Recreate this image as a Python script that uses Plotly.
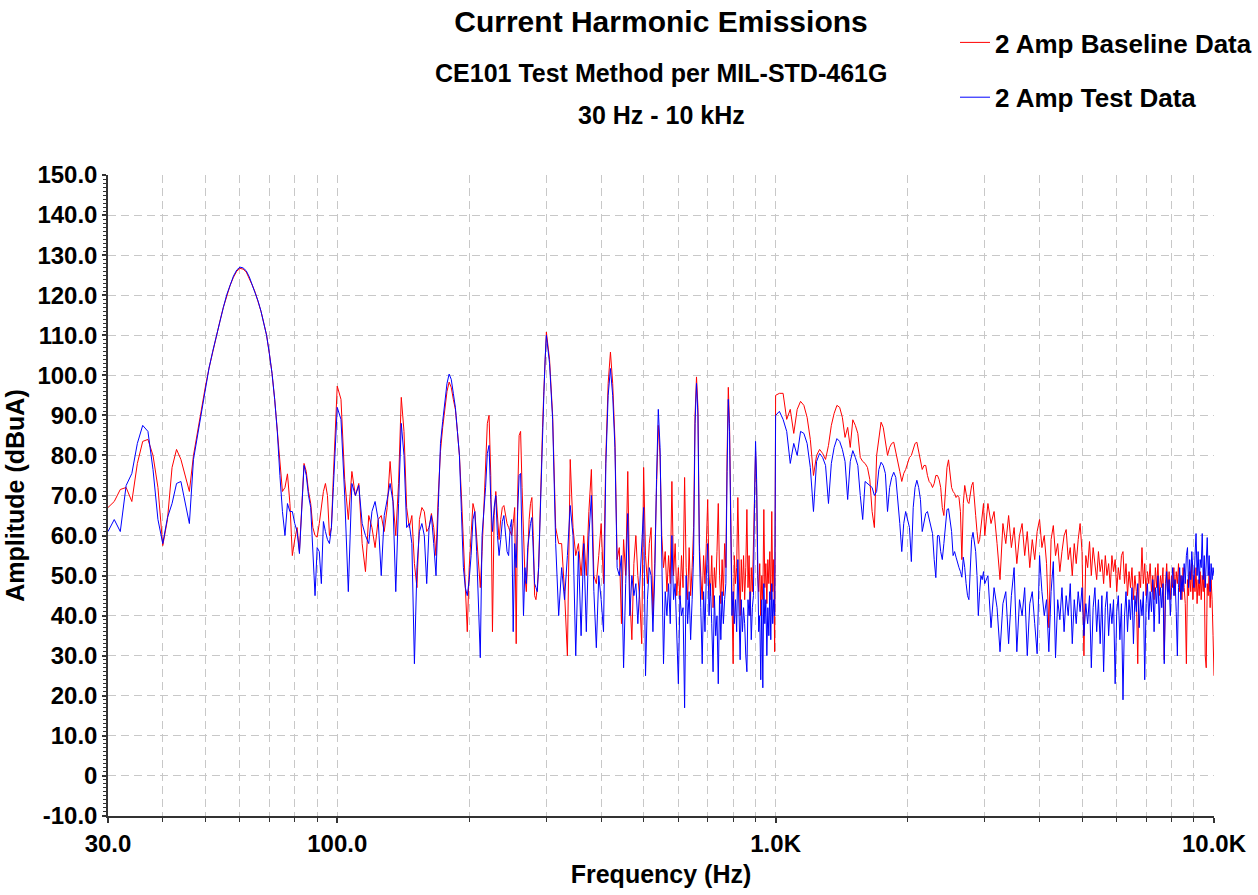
import math
import plotly.graph_objects as go

# ---------------- data ----------------
# Band A: 30 - 99 Hz
FREQ_A = [30, 31, 32, 33, 34, 35, 36, 37, 38, 39,
          40, 41, 42, 43, 44, 45, 46, 47, 48, 49,
          50, 51, 52, 53, 54, 55, 56, 57, 58, 59,
          60, 61, 62, 63, 64, 65, 66, 67, 68, 69,
          70, 71, 72, 73, 74, 75, 76, 77, 78, 79,
          80, 81, 82, 83, 84, 85, 86, 87, 88, 89,
          90, 91, 92, 93, 94, 95, 96, 97, 98, 99]
RED_A = [67, 68.5, 71.5, 72, 68.5, 78, 83.5, 84, 80, 72,
         57.5, 64, 77, 81.5, 79, 75, 71, 80, 86, 91.5,
         97, 101.8, 106, 110, 113.5, 117, 120, 122.5, 124.5, 126,
         126.7, 126.5, 125.8, 124.3, 122.5, 120.7, 118.5, 116, 113, 110,
         105.5, 100.5, 94, 86, 77, 71, 72, 75.4, 68, 55,
         59, 62, 56, 68, 78, 76, 71, 68, 62, 60,
         59.6, 63, 67, 71, 73, 70, 60, 62, 75, 88]
BLUE_A = [61, 64, 61, 72.5, 75.5, 83, 87.5, 86, 76.5, 64,
          58, 64.5, 68, 73, 73.5, 68.5, 63, 79, 85, 91.5,
          97, 101.8, 106, 110, 113.5, 117, 120.2, 122.8, 124.8, 126.3,
          127, 126.8, 126.1, 124.6, 122.7, 120.8, 118.5, 116, 113, 110,
          105.5, 100.5, 94, 86, 75, 66, 60, 68, 66, 66,
          63, 61, 55.5, 68, 77.5, 75, 70, 67, 55, 45,
          57, 56, 48, 63.5, 61, 59, 58, 62, 72, 84]

# Band B: 100 - 298 Hz
FREQ_B = [100, 102, 104, 106, 108, 110, 112, 114, 116, 118,
          120, 122, 124, 126, 128, 130, 132, 134, 136, 138,
          140, 142, 144, 146, 148, 150, 152, 154, 156, 158,
          160, 162, 164, 166, 168, 170, 172, 174, 176, 178,
          180, 182, 184, 186, 188, 190, 192, 194, 196, 198,
          200, 202, 204, 206, 208, 210, 212, 214, 216, 218,
          220, 222, 224, 226, 228, 230, 232, 234, 236, 238,
          240, 242, 244, 246, 248, 250, 252, 254, 256, 258,
          260, 262, 264, 266, 268, 270, 272, 274, 276, 278,
          280, 282, 284, 286, 288, 290, 292, 294, 296, 298]
RED_B = [97.3, 94, 74, 64, 76, 70, 73, 58, 51, 65,
         62, 57, 64, 65, 61, 67, 78.5, 69, 60, 73,
         94.5, 86, 67, 62, 65, 53, 47, 64, 67, 66,
         61, 62, 65.5, 62, 55, 70, 81, 87, 92, 96,
         98.3, 97, 94, 91.5, 86, 80, 70, 58, 45, 36,
         52, 62, 68, 66, 60, 52, 47, 56, 66, 77,
         88, 90, 75, 36, 65, 71, 64, 59, 64, 67,
         67.5, 65, 63, 62, 61, 60, 63, 67, 33, 70,
         85, 86, 72, 60, 50, 46, 58, 64, 68, 69.5,
         60, 45, 44, 47, 52, 65, 76, 87, 96, 105]
BLUE_B = [92, 89, 70, 46, 73, 70, 72.5, 63, 60, 58,
          66, 68.5, 64, 50, 65, 69, 73, 68.5, 46, 68,
          88, 80, 62, 63, 58, 28, 52, 61, 63, 60,
          48, 62, 65, 58, 50, 67, 83, 88.5, 93.5, 98,
          100.3, 99, 95.5, 92, 86, 80, 66, 52, 47, 45,
          49, 55, 64, 66, 56, 40, 29.5, 60, 66, 72,
          80.5, 82.5, 69, 61, 67, 70, 60, 55, 59, 63.5,
          65, 60, 56, 55, 62, 64, 36, 58, 52, 66,
          75, 75.5, 55, 40, 52, 48, 57, 61, 63, 64.5,
          56, 48, 47, 46, 52, 64.5, 76, 86, 95, 104]

# Band C: 300 - 995 Hz
FREQ_C = [300, 305, 310, 315, 320, 325, 330, 335, 340, 345,
          350, 355, 360, 365, 370, 375, 380, 385, 390, 395,
          400, 405, 410, 415, 420, 425, 430, 435, 440, 445,
          450, 455, 460, 465, 470, 475, 480, 485, 490, 495,
          500, 505, 510, 515, 520, 525, 530, 535, 540, 545,
          550, 555, 560, 565, 570, 575, 580, 585, 590, 595,
          600, 605, 610, 615, 620, 625, 630, 635, 640, 645,
          650, 655, 660, 665, 670, 675, 680, 685, 690, 695,
          700, 705, 710, 715, 720, 725, 730, 735, 740, 745,
          750, 755, 760, 765, 770, 775, 780, 785, 790, 795,
          800, 805, 810, 815, 820, 825, 830, 835, 840, 845,
          850, 855, 860, 865, 870, 875, 880, 885, 890, 895,
          900, 905, 910, 915, 920, 925, 930, 935, 940, 945,
          950, 955, 960, 965, 970, 975, 980, 985, 990, 995]
RED_C = [110.8, 104, 90, 62, 58, 58, 46, 30, 79, 62,
         55, 58, 50, 60, 50, 66, 76.5, 50, 48, 55,
         63, 48, 80, 98, 105.8, 98, 84, 54, 57, 38,
         59, 50, 76, 45, 34, 53, 60, 50, 44, 33,
         77, 55, 48, 58, 62, 40, 53, 72, 87.5, 80,
         60, 52, 56, 46, 55, 48, 73.5, 50, 58, 45,
         52, 44, 55, 47, 74.5, 52, 44, 57, 45, 52,
         62, 90, 99.6, 92, 58, 50, 44, 55, 48, 58,
         69, 50, 45, 55, 42, 52, 47, 56, 68, 50,
         43, 54, 45, 58, 52, 80, 97, 88, 60, 45,
         28, 55, 48, 52, 69.5, 48, 40, 54, 46, 55,
         44, 52, 66.5, 47, 55, 40, 52, 46, 57, 70,
         81, 72, 50, 46, 53, 40, 50, 44, 66.5, 47,
         53, 43, 54, 48, 56, 44, 66, 46, 54, 31]
BLUE_C = [110, 103, 89, 58, 40, 52, 44, 55, 67.5, 60,
          30, 56, 35, 58, 36, 60, 70, 46, 32, 50,
          44, 36, 78, 95, 101.7, 95, 82, 52, 50, 55,
          27, 48, 65.5, 40, 50, 45, 48, 38, 48, 55,
          67, 25, 44, 52, 50, 36, 50, 74, 91.5, 82,
          56, 28, 46, 40, 48, 38, 60, 44, 48, 35,
          23, 45, 40, 42, 17, 50, 38, 46, 34, 44,
          55, 88, 98, 90, 56, 42, 28, 46, 36, 50,
          58, 40, 48, 38, 26, 45, 35, 40, 23, 45,
          34, 46, 38, 44, 48, 76, 94, 86, 58, 40,
          46, 38, 44, 36, 54, 40, 29, 44, 36, 42,
          38, 30, 26, 44, 40, 46, 34, 42, 45, 68,
          83.5, 74, 48, 36, 40, 24, 44, 22, 48, 38,
          44, 30, 42, 35, 46, 34, 48, 38, 44, 40]

# Band D1: 1000 - 2980 Hz
FREQ_D1 = [1000, 1020, 1040, 1060, 1080, 1100, 1120, 1140, 1160, 1180,
           1200, 1220, 1240, 1260, 1280, 1300, 1320, 1340, 1360, 1380,
           1400, 1420, 1440, 1460, 1480, 1500, 1520, 1540, 1560, 1580,
           1600, 1620, 1640, 1660, 1680, 1700, 1720, 1740, 1760, 1780,
           1800, 1820, 1840, 1860, 1880, 1900, 1920, 1940, 1960, 1980,
           2000, 2020, 2040, 2060, 2080, 2100, 2120, 2140, 2160, 2180,
           2200, 2220, 2240, 2260, 2280, 2300, 2320, 2340, 2360, 2380,
           2400, 2420, 2440, 2460, 2480, 2500, 2520, 2540, 2560, 2580,
           2600, 2620, 2640, 2660, 2680, 2700, 2720, 2740, 2760, 2780,
           2800, 2820, 2840, 2860, 2880, 2900, 2920, 2940, 2960, 2980]
RED_D1 = [95, 95.5, 95.5, 89, 91.5, 85.5, 91.5, 93.5, 92.5, 89.5,
          84, 75, 80, 81.5, 80.5, 79, 82.5, 87.5, 90.5, 92.5,
          92, 89.5, 84.5, 87, 82, 88.9, 87.5, 85.5, 79.5, 78.5,
          78, 77, 74, 66, 62, 80, 85, 88.3, 87, 84,
          80, 82, 83, 83.3, 80.5, 78, 76, 73.5, 75.5, 76.5,
          78, 79.5, 80, 81.5, 83, 83.3, 81, 78, 76.5, 77.5,
          77.5, 75, 73.5, 73, 72, 73, 75, 75, 74, 72,
          67, 65, 72, 77, 78.9, 76, 72, 71, 70.5, 69.5,
          70, 69.5, 66, 54, 68, 72.5, 70.5, 68.5, 68, 70,
          72.5, 73.3, 70, 65, 61, 58, 59, 62, 66, 68]
BLUE_D1 = [90, 91, 89, 86, 78, 83, 80, 86, 85.5, 83,
           77, 66, 78.5, 80.5, 79.5, 77.5, 68, 78, 82, 84.2,
           83.5, 81.5, 78.5, 69, 78.5, 81.2, 79.5, 77.5, 70, 64,
           73.5, 73, 72.5, 72, 70, 71, 76.5, 78.3, 77.5, 75.5,
           66, 72, 74.5, 75.8, 74.5, 69, 63, 56, 63, 66,
           64, 62, 53.5, 67, 72, 73.8, 72, 69, 61, 63,
           65.5, 66, 64, 62, 60.5, 54, 49.5, 60, 60, 56,
           54, 58, 63, 66.5, 66.7, 64, 61, 55, 56, 54.6,
           53, 52, 51, 49.6, 54.6, 52, 48, 45, 44, 53,
           59, 60.8, 58, 56, 50, 40, 46, 50, 49, 51]

# Band D2: 3000 - 10000 Hz
FREQ_D2 = [3000, 3050, 3100, 3150, 3200, 3250, 3300, 3350, 3400, 3450,
           3500, 3550, 3600, 3650, 3700, 3750, 3800, 3850, 3900, 3950,
           4000, 4050, 4100, 4150, 4200, 4250, 4300, 4350, 4400, 4450,
           4500, 4550, 4600, 4650, 4700, 4750, 4800, 4850, 4900, 4950,
           5000, 5050, 5100, 5150, 5200, 5250, 5300, 5350, 5400, 5450,
           5500, 5550, 5600, 5650, 5700, 5750, 5800, 5850, 5900, 5950,
           6000, 6050, 6100, 6150, 6200, 6250, 6300, 6350, 6400, 6450,
           6500, 6550, 6600, 6650, 6700, 6750, 6800, 6850, 6900, 6950,
           7000, 7050, 7100, 7150, 7200, 7250, 7300, 7350, 7400, 7450,
           7500, 7550, 7600, 7650, 7700, 7750, 7800, 7850, 7900, 7950,
           8000, 8050, 8100, 8150, 8200, 8250, 8300, 8350, 8400, 8450,
           8500, 8550, 8600, 8650, 8700, 8750, 8800, 8850, 8900, 8950,
           9000, 9050, 9100, 9150, 9200, 9250, 9300, 9350, 9400, 9450,
           9500, 9550, 9600, 9650, 9700, 9750, 9800, 9850, 9900, 9950,
           10000]
RED_D2 = [60, 68, 63, 66, 58, 49, 63, 58, 65, 57,
          62, 53, 60, 63, 55, 61, 52, 59, 54, 61,
          64, 57, 60, 53, 37, 59, 62.5, 55, 58, 51,
          56, 60, 61.5, 54, 57, 50, 58, 53, 59, 63,
          56, 30, 55, 52, 58.5, 50, 57, 53, 49, 56,
          51, 54, 48, 55, 50, 53, 47, 55, 51, 54,
          46, 52, 49, 55, 56, 48, 53, 45, 51, 47,
          52, 44, 50, 46, 28, 51, 47, 57, 48, 53,
          45, 51, 48, 53, 46, 50, 44, 52, 47, 53,
          45, 50, 47, 52, 29, 48, 53, 46, 51, 44,
          50, 47, 52, 45, 51, 48, 53, 46, 50, 44,
          52, 47, 43, 28, 49, 45, 51, 46, 53, 44,
          50, 46, 52, 43, 49, 45, 51, 44, 50, 46,
          52, 30, 27, 48, 45, 51, 42, 49, 44, 35,
          25]
BLUE_D2 = [48, 50, 37, 47, 42, 31, 43, 46, 33, 45,
           52, 31, 44, 40, 47, 30, 43, 46, 38, 30.5,
           55, 46, 40, 44, 31, 46, 53.5, 29.5, 44, 39,
           47, 36, 45, 40, 48, 33, 44, 38, 46, 41,
           47, 35, 43, 38, 45, 27, 42, 47, 36, 44,
           33, 45, 26, 42, 46, 35, 43, 38, 44, 23,
           41, 45, 34, 43, 19, 40, 46, 36, 44, 39,
           47, 33, 45, 41, 48, 37, 44, 40, 46, 24,
           43, 48, 39, 46, 41, 49, 36, 47, 43, 50,
           38, 47, 42, 48, 28, 45, 51, 44, 49, 40,
           47, 52, 45, 49, 41, 30, 47, 52, 44, 50,
           46, 53, 48, 55, 57, 47, 54, 49, 56, 51,
           47, 55, 60.5, 50, 56, 48, 54, 52, 60.5, 49,
           55, 47, 53, 59.5, 50, 55, 46, 53, 49, 52,
           50]

SERIES_NAMES = ["2 Amp Baseline Data", "2 Amp Test Data"]

X_TICK_VALS = [30, 100, 1000, 10000]
X_TICK_TEXT = ["30.0", "100.0", "1.0K", "10.0K"]
X_MINOR_VALS = [40, 50, 60, 70, 80, 90,
                200, 300, 400, 500, 600, 700, 800, 900,
                2000, 3000, 4000, 5000, 6000, 7000, 8000, 9000]
Y_TICK_VALS = [-10, 0, 10, 20, 30, 40, 50, 60, 70, 80, 90, 100, 110, 120, 130, 140, 150]
Y_TICK_TEXT = ["-10.0", "0", "10.0", "20.0", "30.0", "40.0", "50.0", "60.0", "70.0",
               "80.0", "90.0", "100.0", "110.0", "120.0", "130.0", "140.0", "150.0"]

# ---------------- assemble ----------------
freq = FREQ_A + FREQ_B + FREQ_C + FREQ_D1 + FREQ_D2
red = RED_A + RED_B + RED_C + RED_D1 + RED_D2
blue = BLUE_A + BLUE_B + BLUE_C + BLUE_D1 + BLUE_D2
assert len(FREQ_A) == len(RED_A) == len(BLUE_A)
assert len(FREQ_B) == len(RED_B) == len(BLUE_B)
assert len(FREQ_C) == len(RED_C) == len(BLUE_C)
assert len(FREQ_D1) == len(RED_D1) == len(BLUE_D1)
assert len(FREQ_D2) == len(RED_D2) == len(BLUE_D2)

FONT = "Liberation Sans, Arial, Helvetica, sans-serif"
GRID = "#c8c8c8"
DASH = "8px,5px"
AXIS = "#333333"

W, H = 1258, 895
L, R, T, B = 108, 44, 175, 79
PW, PH = W - L - R, H - T - B

fig = go.Figure()
fig.add_trace(go.Scatter(x=freq, y=red, mode="lines", name=SERIES_NAMES[0],
                         legendgroup="base", line=dict(color="#ff0000", width=1)))
fig.add_trace(go.Scatter(x=freq, y=blue, mode="lines", name=SERIES_NAMES[1],
                         legendgroup="test", line=dict(color="#0000ff", width=1)))

fig.update_layout(
    width=W, height=H,
    margin=dict(l=L, r=R, t=T, b=B, autoexpand=False),
    paper_bgcolor="white", plot_bgcolor="white",
    font=dict(family=FONT, color="black"),
    title=dict(text="Current Harmonic Emissions", x=0.5, xref="paper", xanchor="center",
               y=1 - 21 / H, yref="container", yanchor="middle",
               font=dict(size=30, weight="bold", color="black")),
    showlegend=True,
    legend=dict(x=(955 - L) / PW, xanchor="left", y=1 + (T - 19) / PH, yanchor="top",
                font=dict(size=26, weight="bold", color="black"),
                tracegroupgap=18, bgcolor="rgba(0,0,0,0)", borderwidth=0),
    annotations=[
        dict(text="CE101 Test Method per MIL-STD-461G", x=0.5, xref="paper",
             y=1 + (T - 73) / PH, yref="paper", xanchor="center", yanchor="middle",
             showarrow=False, font=dict(size=25, weight="bold", color="black")),
        dict(text="30 Hz - 10 kHz", x=0.5, xref="paper",
             y=1 + (T - 115) / PH, yref="paper", xanchor="center", yanchor="middle",
             showarrow=False, font=dict(size=25, weight="bold", color="black")),
    ],
)

fig.update_xaxes(
    type="log", range=[math.log10(30), math.log10(10000)],
    tickmode="array", tickvals=X_TICK_VALS, ticktext=X_TICK_TEXT,
    ticks="outside", ticklen=5, tickwidth=1.5, tickcolor=AXIS,
    showline=True, linecolor=AXIS, linewidth=1.5,
    showgrid=True, gridcolor=GRID, griddash=DASH, gridwidth=1,
    zeroline=False, automargin=False,
    tickfont=dict(size=24, weight="bold", color="black"),
    minor=dict(tickmode="array", tickvals=X_MINOR_VALS, ticks="outside", ticklen=4,
               tickwidth=1.2, tickcolor=AXIS, showgrid=True, gridcolor=GRID,
               griddash=DASH, gridwidth=1),
    title=dict(text="Frequency (Hz)", font=dict(size=25, weight="bold", color="black"),
               standoff=10),
)
fig.update_yaxes(
    range=[-10, 150],
    tickmode="array", tickvals=Y_TICK_VALS, ticktext=Y_TICK_TEXT,
    ticks="outside", ticklen=4, tickwidth=1.5, tickcolor=AXIS,
    showline=True, linecolor=AXIS, linewidth=1.5,
    showgrid=True, gridcolor=GRID, griddash=DASH, gridwidth=1,
    zeroline=False, automargin=False,
    tickfont=dict(size=24, weight="bold", color="black"),
    minor=dict(tickmode="linear", tick0=0, dtick=1, ticks="outside", ticklen=3,
               tickwidth=1, tickcolor=AXIS, showgrid=False),
    title=dict(text="Amplitude (dBuA)", font=dict(size=25, weight="bold", color="black"),
               standoff=6),
)

fig.write_html("out.html")
